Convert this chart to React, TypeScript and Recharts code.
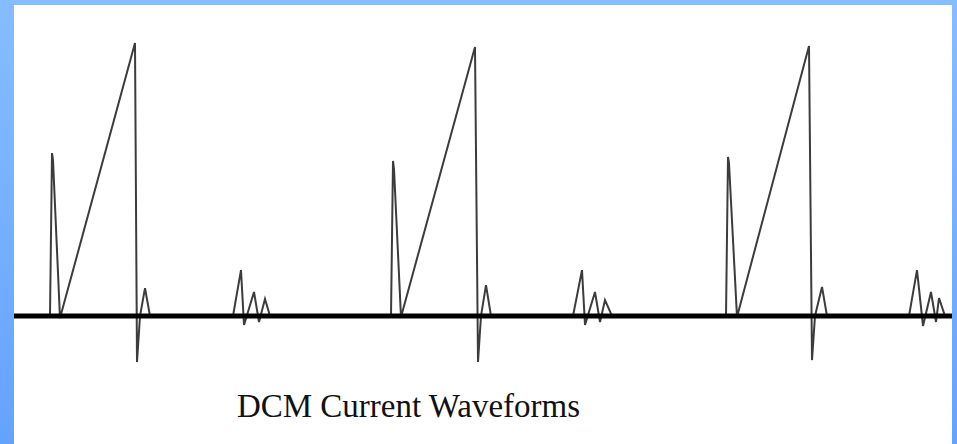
import { LineChart, Line, XAxis, YAxis, ReferenceLine } from 'recharts';

// time in µs, current in A
const timeUs = [
  0, 3.6, 3.8, 3.9, 4.6, 12.1, 12.3, 12.6, 13.1, 13.6, 21.9, 22.7, 23.0, 24.0, 24.5, 25.1, 25.6,
  37.7, 37.9, 38.0, 38.7, 46.1, 46.4, 46.7, 47.2, 47.7, 55.9, 56.8, 57.1, 58.1, 58.6, 59.1, 59.8,
  71.2, 71.4, 71.5, 72.3, 79.5, 79.8, 80.1, 80.8, 81.3, 89.5, 90.3, 90.9, 91.7, 92.2, 92.5, 93.1, 93.8,
];
const currentA = [
  0, 0, 5.43, 5.2, -0.07, 9.1, -1.53, 0, 0.93, 0, 0, 1.53, -0.3, 0.8, -0.2, 0.57, 0,
  0, 5.17, 4.9, -0.03, 8.97, -1.53, 0, 1.03, 0, 0, 1.53, -0.3, 0.8, -0.2, 0.53, 0,
  0, 5.3, 5.1, -0.03, 9.0, -1.47, 0, 0.97, 0, 0, 1.53, -0.33, 0.8, -0.2, 0.6, 0, 0,
];

const title = 'DCM Current Waveforms';

const data = timeUs.map((t, i) => ({ t, i: currentA[i] }));

export default function App() {
  return (
    <div
      style={{
        position: 'absolute',
        left: 0,
        top: 0,
        width: 957,
        height: 444,
        background: 'linear-gradient(to bottom, #86bdff, #65a2ff)',
        overflow: 'hidden',
      }}
    >
      <div style={{ position: 'absolute', left: 14, top: 5, width: 938, height: 439, background: '#fff' }} />
      <div style={{ position: 'absolute', left: 0, top: 0 }}>
        <LineChart width={957} height={444} data={data} margin={{ top: 16, right: 5, bottom: 8, left: 14 }}>
          <XAxis dataKey="t" type="number" domain={[0, 93.8]} hide />
          <YAxis type="number" domain={[-4, 10]} hide />
          <Line
            type="linear"
            dataKey="i"
            stroke="#3c3c3c"
            strokeWidth={2}
            dot={false}
            activeDot={false}
            isAnimationActive={false}
          />
          <ReferenceLine y={0} stroke="#000" strokeWidth={5} />
        </LineChart>
      </div>
      <svg width={957} height={444} style={{ position: 'absolute', left: 0, top: 0 }}>
        <text
          x={408.5}
          y={417}
          textAnchor="middle"
          fontFamily="'Liberation Serif', 'Times New Roman', serif"
          fontSize={33}
          fill="#111"
        >
          {title}
        </text>
      </svg>
    </div>
  );
}
